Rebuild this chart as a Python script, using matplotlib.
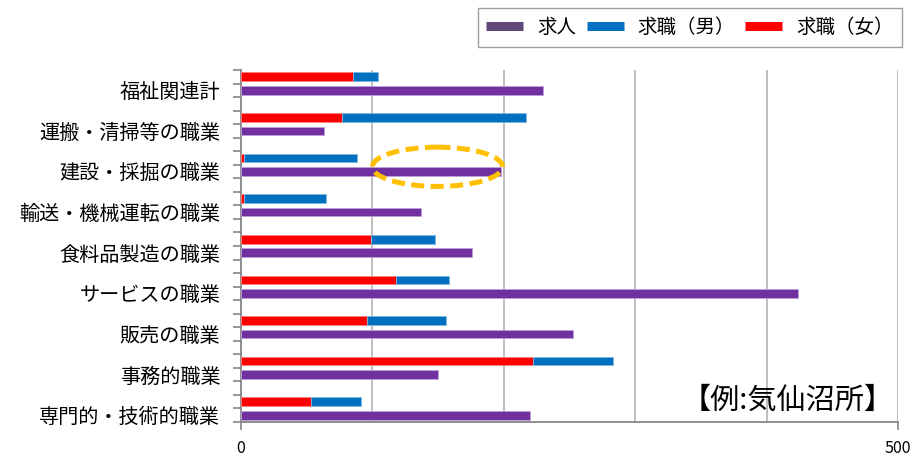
import matplotlib
matplotlib.use('Agg')
import matplotlib.pyplot as plt
from matplotlib.lines import Line2D
from matplotlib.patches import Ellipse
import numpy as np

plt.rcParams['font.family'] = ['Noto Sans CJK JP', 'DejaVu Sans']

# categories top -> bottom
categories = ['福祉関連計', '運搬・清掃等の職業', '建設・採掘の職業', '輸送・機械運転の職業',
              '食料品製造の職業', 'サービスの職業', '販売の職業', '事務的職業', '専門的・技術的職業']
kyujin = [230, 63, 198, 137, 176, 424, 253, 150, 220]        # 求人
kyushoku_f = [85, 77, 2, 2, 99, 118, 96, 222, 53]           # 求職(女)
kyushoku_m = [19, 140, 86, 63, 49, 40, 60, 61, 38]          # 求職(男)
series_names = ['求人', '求職（男）', '求職（女）']

c_purple = '#7030A0'
c_blue = '#0070C0'
c_red = '#FF0000'

fig = plt.figure(figsize=(9.24, 4.57), dpi=100)
ax = fig.add_axes([241 / 924, 35 / 457, 657 / 924, 352 / 457])

# 3 slots per category (job seekers, openings, blank), last blank dropped
n = len(categories)
idx = np.arange(n)
y_seek = idx * 3 + 0.5
y_open = idx * 3 + 1.5
h = 0.64

ax.barh(y_seek, kyushoku_f, height=h, color=c_red, edgecolor='#FF8080', linewidth=0.6, zorder=3)
ax.barh(y_seek, kyushoku_m, left=kyushoku_f, height=h, color=c_blue,
        edgecolor='#7FB8E0', linewidth=0.6, zorder=3)
ax.barh(y_open, kyujin, height=h, color=c_purple, edgecolor='#C0A0DA', linewidth=0.6, zorder=3)

ax.set_xlim(0, 500)
ax.set_ylim(n * 3 - 1, 0)

# gridlines every 100, labels only at 0 and 500
for gx in [100, 200, 300, 400, 500]:
    ax.axvline(gx, color='#BEBEBE', linewidth=1.4, zorder=1)
ax.set_xticks([0, 500])
ax.set_xticklabels(['0', '500'], fontsize=11.5)
ax.tick_params(axis='x', length=6, width=1.2, color='#868686', pad=7)

ax.set_yticks(y_open)
ax.set_yticklabels(categories, fontsize=14.5)
ax.set_yticks(np.arange(0, n * 3), minor=True)
ax.tick_params(axis='y', which='major', length=0, pad=15)
ax.tick_params(axis='y', which='minor', length=6, width=1.2, color='#868686')

for side in ['top', 'right']:
    ax.spines[side].set_visible(False)
for side in ['left', 'bottom']:
    ax.spines[side].set_color('#868686')
    ax.spines[side].set_linewidth(1.3)

# highlight ellipse around 建設・採掘 openings
ell = Ellipse((149.5, 7.15), width=99, height=2.9, fill=False, edgecolor='#FFC000',
              linewidth=3.6, linestyle=(0, (2.6, 1.3)), zorder=4)
ax.add_patch(ell)

ax.text(0.993, 0.06, '【例:気仙沼所】', transform=ax.transAxes, ha='right', va='center',
        fontsize=21, zorder=5)

handles = [Line2D([0], [0], color='#60497A', lw=6.5, solid_capstyle='butt'),
           Line2D([0], [0], color=c_blue, lw=6.5, solid_capstyle='butt'),
           Line2D([0], [0], color=c_red, lw=6.5, solid_capstyle='butt')]
leg = fig.legend(handles, series_names, loc='center', ncol=3, mode='expand',
                 bbox_to_anchor=(468 / 924, 1 - 50 / 457, 444 / 924, 45 / 457),
                 fontsize=14, frameon=True, fancybox=False, edgecolor='#868686',
                 handlelength=1.9, handletextpad=0.7, borderpad=0.45)
leg.get_frame().set_linewidth(1.0)

fig.savefig('out.png', dpi=100)
